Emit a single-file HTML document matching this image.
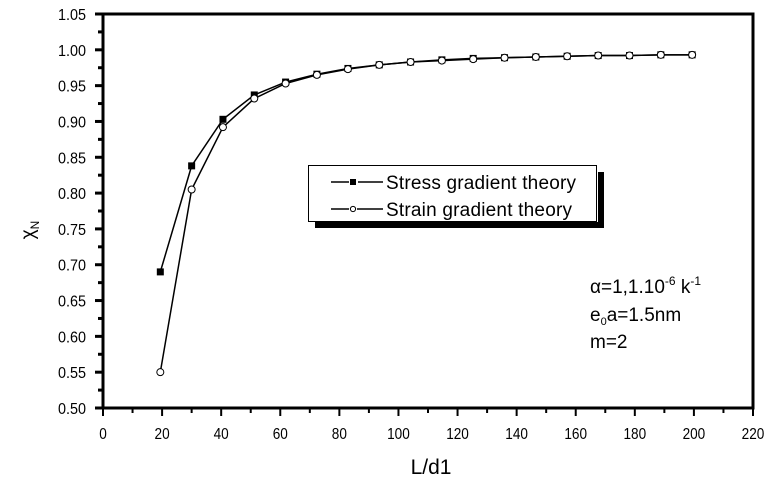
<!DOCTYPE html>
<html><head><meta charset="utf-8"><style>
html,body{margin:0;padding:0;background:#fff;}
svg{display:block;font-family:"Liberation Sans",sans-serif;}
</style></head><body>
<svg id="chart" width="770" height="478" viewBox="0 0 770 478">
<g id="axes"></g>
<g id="series"></g>
<g id="legend">
  <rect x="315" y="222" width="289" height="6" fill="#000"/>
  <rect x="598" y="172" width="6" height="56" fill="#000"/>
  <rect x="308.5" y="165.5" width="288" height="56" fill="#fff" stroke="#000" stroke-width="1"/>
  <g>
    <line x1="331" y1="182" x2="349" y2="182" stroke="#000" stroke-width="1.5"/>
    <line x1="358" y1="182" x2="383" y2="182" stroke="#000" stroke-width="1.5"/>
    <rect x="350" y="179" width="6" height="6" fill="#000"/>
    <text x="386" y="189" font-size="19" textLength="190">Stress gradient theory</text>
  </g>
  <g>
    <line x1="331" y1="209" x2="349" y2="209" stroke="#000" stroke-width="1.5"/>
    <line x1="357" y1="209" x2="383" y2="209" stroke="#000" stroke-width="1.5"/>
    <circle cx="353" cy="209" r="2.6" fill="#fff" stroke="#000" stroke-width="1"/>
    <text x="386" y="216" font-size="19" textLength="186">Strain gradient theory</text>
  </g>
</g>
<g font-size="19">
  <text x="590" y="293">α=1,1.10<tspan dy="-8" font-size="12">-6</tspan><tspan dy="8"> k</tspan><tspan dy="-8" font-size="12">-1</tspan></text>
  <text x="590" y="321">e<tspan dy="4" font-size="11">0</tspan><tspan dy="-4">a=1.5nm</tspan></text>
  <text x="590" y="348">m=2</text>
</g>
<text x="431" y="474" font-size="21" text-anchor="middle">L/d1</text>
<text transform="translate(34,230) rotate(-90)" font-size="19" text-anchor="middle">χ<tspan dy="5" font-size="12">N</tspan></text>
</svg>
<script>
const xValues=[19.4,30,40.6,51.2,61.8,72.4,82.9,93.5,104.1,114.7,125.3,135.9,146.5,157.1,167.6,178.2,188.8,199.4];
const stressValues=[0.69,0.838,0.903,0.937,0.955,0.966,0.974,0.979,0.983,0.986,0.988,0.989,0.990,0.991,0.992,0.992,0.993,0.993];
const strainValues=[0.55,0.805,0.892,0.932,0.953,0.965,0.973,0.979,0.983,0.985,0.987,0.989,0.990,0.991,0.992,0.992,0.993,0.993];
const xTicks=[0,20,40,60,80,100,120,140,160,180,200,220];
const yTicks=[0.50,0.55,0.60,0.65,0.70,0.75,0.80,0.85,0.90,0.95,1.00,1.05];

const X0=103,X1=753,Y0=408,Y1=14,xmin=0,xmax=220,ymin=0.5,ymax=1.05;
const sx=v=>X0+(v-xmin)/(xmax-xmin)*(X1-X0);
const sy=v=>Y0-(v-ymin)/(ymax-ymin)*(Y0-Y1);
const NS="http://www.w3.org/2000/svg";
function mk(tag,attrs,parent){const e=document.createElementNS(NS,tag);for(const k in attrs)e.setAttribute(k,attrs[k]);parent.appendChild(e);return e;}
const axes=document.getElementById('axes');
const frame=mk('rect',{x:X0,y:Y1,width:X1-X0,height:Y0-Y1,fill:'none',stroke:'#000','stroke-width':3},axes);


yTicks.forEach((t,i)=>{
  const y=sy(t);
  const tk=mk('line',{x1:X0-8,x2:X0,y1:y,y2:y,stroke:'#000','stroke-width':3},axes);
  
  
  if(i<yTicks.length-1){
    const ym=sy(t+0.025);
    const mt=mk('line',{x1:X0-5,x2:X0,y1:ym,y2:ym,stroke:'#000','stroke-width':3},axes);
    
    
  }
  const lb=mk('text',{x:86,y:y+6,'font-size':16,'text-anchor':'end',fill:'#000',transform:'translate(86,0) scale(0.9,1) translate(-86,0)'},axes);
  lb.textContent=t.toFixed(2);
  
  
});
xTicks.forEach((t,i)=>{
  const x=sx(t);
  const tk=mk('line',{x1:x,x2:x,y1:Y0,y2:Y0+8,stroke:'#000','stroke-width':2},axes);
  
  
  if(i<xTicks.length-1){
    const xm=sx(t+10);
    const mt=mk('line',{x1:xm,x2:xm,y1:Y0,y2:Y0+5,stroke:'#000','stroke-width':2},axes);
    
    
  }
  const lb=mk('text',{x:x,y:Y0+31,'font-size':16,'text-anchor':'middle',fill:'#000',transform:'translate('+x+',0) scale(0.85,1) translate('+(-x)+',0)'},axes);
  lb.textContent=String(t);
  
  
});
const series=document.getElementById('series');
function drawSeries(vals,name,filled){
  const g=mk('g',{},series);
  
  
  const pts=xValues.map((x,i)=>sx(x)+','+sy(vals[i])).join(' ');
  const pl=mk('polyline',{points:pts,fill:'none',stroke:'#000','stroke-width':1.5},g);
  
  
  xValues.forEach((x,i)=>{
    let m;
    if(filled){m=mk('rect',{x:sx(x)-3.5,y:sy(vals[i])-3.5,width:7,height:7,fill:'#000'},g);}
    else{m=mk('circle',{cx:sx(x),cy:sy(vals[i]),r:3.5,fill:'#fff',stroke:'#000','stroke-width':1},g);}
    
    
  });
}
drawSeries(stressValues,'stress-series',true);
drawSeries(strainValues,'strain-series',false);
</script>
</body></html>
